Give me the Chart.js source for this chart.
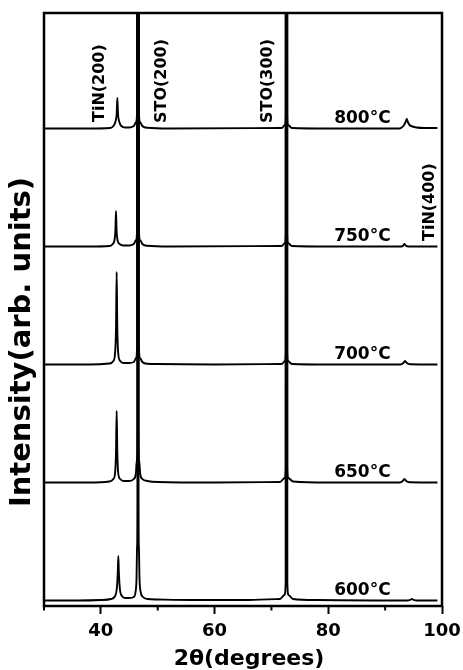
<!DOCTYPE html>
<html lang="en">
<head>
    <meta charset="UTF-8">
    <title>XRD patterns of TiN on STO</title>
    <style>
        html, body { margin: 0; padding: 0; background: #fff; }
        #wrap { width: 463px; height: 670px; position: relative; }
    </style>
</head>
<body>
    <div id="wrap"><canvas id="xrd"></canvas></div>

    <script src="https://cdn.jsdelivr.net/npm/chart.js"></script>
    <script>
        // 2-theta range and x-axis ticks
        const thetaMin = 30;
        const thetaMax = 100;
        const majorTicks = [40, 60, 80, 100];
        const minorTicks = [30, 50, 70, 90];

        // anneal temperatures and the vertical offset of each pattern (arb. units)
        const temps = ['600°C', '650°C', '700°C', '750°C', '800°C'];
        const offsets = [0, 118, 236, 354, 472];

        // measured patterns, [2theta, intensity] (STO peaks run off scale)
        const xrd600 = [[30,0.5],[36,0.5],[40,1],[41.8,2],[42.5,5],[42.8,12],[42.97,28],[43.07,45],[43.17,28],[43.35,12],[43.7,5],[44.3,3],[45.0,3],[45.8,4],[46.1,9],[46.27,22],[46.38,55],[46.43,100],[46.46,3000],[46.6,3000],[46.63,100],[46.68,55],[46.8,22],[47.0,9],[47.4,4],[48.2,2],[50,1.5],[56,1],[66,1],[71.5,2],[72.3,6],[72.5,18],[72.6,3000],[72.7,3000],[72.8,18],[73.0,6],[73.8,2],[78,1],[88,0.5],[93.9,0.5],[94.4,1.2],[94.7,2],[95.0,1.2],[95.6,0.5],[99.2,0.5]];
        const xrd650 = [[30,0.5],[38,0.5],[41.5,1.5],[42.2,4],[42.5,10],[42.66,30],[42.78,72],[42.9,30],[43.05,10],[43.4,4],[44.0,2],[45.0,2],[45.8,4],[46.15,9],[46.32,22],[46.42,50],[46.46,3000],[46.6,3000],[46.64,50],[46.74,22],[46.92,9],[47.3,4],[48.2,2],[50,1],[60,0.5],[71.5,1],[72.35,5],[72.52,16],[72.6,3000],[72.7,3000],[72.78,16],[72.95,5],[73.8,1.5],[80,0.5],[92.6,0.5],[93.1,2],[93.4,4],[93.7,2],[94.3,0.8],[99.2,0.5]];
        const xrd700 = [[30,0.5],[38,0.5],[41.5,1.5],[42.2,4],[42.5,12],[42.67,38],[42.78,93],[42.89,38],[43.05,12],[43.4,4],[44.0,2],[45.0,2],[45.8,3],[46.2,7],[46.38,20],[46.46,3000],[46.6,3000],[46.68,20],[46.88,7],[47.3,3],[48.2,1.2],[50,1],[60,0.5],[71.8,1],[72.4,4],[72.54,14],[72.6,3000],[72.7,3000],[72.76,14],[72.9,4],[73.6,1],[80,0.5],[92.7,0.5],[93.2,2],[93.5,4],[93.8,2],[94.4,0.8],[99.2,0.5]];
        const xrd750 = [[30,0.5],[38,0.5],[41.5,1],[42.1,3],[42.4,7],[42.56,17],[42.66,36],[42.76,17],[42.92,7],[43.3,3],[44.0,1.5],[45.0,1.5],[45.8,3],[46.2,7],[46.38,20],[46.46,3000],[46.6,3000],[46.68,20],[46.88,7],[47.3,3],[48.2,1.2],[52,0.5],[71.8,1],[72.4,4],[72.54,14],[72.6,3000],[72.7,3000],[72.76,14],[72.9,4],[73.6,1],[80,0.5],[92.8,0.5],[93.2,1.5],[93.4,3],[93.6,1.5],[94.2,0.5],[99.2,0.5]];
        const xrd800 = [[30,0.5],[38,0.5],[41.6,1],[42.2,3],[42.55,7],[42.78,15],[42.9,31],[43.02,15],[43.25,7],[43.6,3],[44.3,1.5],[45.0,1.5],[45.8,3],[46.2,7],[46.38,20],[46.46,3000],[46.6,3000],[46.68,20],[46.88,7],[47.3,3],[48.2,1.2],[52,0.5],[71.8,1],[72.4,4],[72.54,14],[72.6,3000],[72.7,3000],[72.76,14],[72.9,4],[73.6,1],[80,0.5],[92.5,0.5],[93.2,3],[93.6,7],[93.8,10],[94.0,7],[94.3,4],[94.8,2.5],[95.5,1.5],[97,1],[99.2,1]];
        const patterns = [xrd600, xrd650, xrd700, xrd750, xrd800];

        // reflection labels and where they sit (2theta, intensity of text base)
        const peakNames = ['TiN(200)', 'STO(200)', 'STO(300)', 'TiN(400)'];
        const peakNameAt = [[39.85, 479], [50.7, 478], [69.4, 478], [97.8, 360]];
        const tempLabelTheta = 86;

        Chart.defaults.font.family = '"DejaVu Sans", sans-serif';
        Chart.defaults.color = '#000';

        const datasets = patterns.map((pts, i) => ({
            label: temps[i],
            data: pts.map(p => ({ x: p[0], y: p[1] + offsets[i] })),
            borderColor: '#000',
            borderWidth: 1.9,
            pointRadius: 0,
            cubicInterpolationMode: 'monotone',
            fill: false
        }));

        // frame, minor ticks and all the annotation text
        const decorations = {
            id: 'decorations',
            afterDraw(chart) {
                const ctx = chart.ctx;
                const area = chart.chartArea;
                const xs = chart.scales.x;
                const ys = chart.scales.y;
                ctx.save();
                ctx.strokeStyle = '#000';
                ctx.lineWidth = 2.5;
                ctx.strokeRect(area.left, area.top, area.right - area.left, area.bottom - area.top);

                ctx.lineWidth = 2;
                minorTicks.forEach(v => {
                    const px = xs.getPixelForValue(v);
                    ctx.beginPath();
                    ctx.moveTo(px, area.bottom);
                    ctx.lineTo(px, area.bottom + 4.5);
                    ctx.stroke();
                });

                ctx.fillStyle = '#000';
                ctx.font = 'bold 16px "DejaVu Sans"';
                ctx.textAlign = 'left';
                ctx.textBaseline = 'middle';
                peakNames.forEach((name, i) => {
                    ctx.save();
                    ctx.translate(xs.getPixelForValue(peakNameAt[i][0]), ys.getPixelForValue(peakNameAt[i][1]));
                    ctx.rotate(-Math.PI / 2);
                    ctx.fillText(name, 0, 0);
                    ctx.restore();
                });

                ctx.font = 'bold 17px "DejaVu Sans"';
                ctx.textAlign = 'center';
                ctx.textBaseline = 'alphabetic';
                temps.forEach((t, i) => {
                    ctx.fillText(t, xs.getPixelForValue(tempLabelTheta), ys.getPixelForValue(offsets[i] + 6));
                });

                // axis titles
                ctx.font = 'bold 22px "DejaVu Sans"';
                ctx.fillText('2θ(degrees)', 249, 665);

                ctx.save();
                ctx.translate(22, 342);
                ctx.rotate(-Math.PI / 2);
                ctx.textBaseline = 'middle';
                ctx.font = 'bold 29px "DejaVu Sans"';
                ctx.fillText('Intensity(arb. units)', 0, 0);
                ctx.restore();

                ctx.restore();
            }
        };

        new Chart(document.getElementById('xrd'), {
            type: 'line',
            data: { datasets: datasets },
            options: {
                responsive: true,
                maintainAspectRatio: false,
                animation: false,
                devicePixelRatio: 1,
                layout: { padding: { left: 44, right: 21, top: 13, bottom: 0 } },
                plugins: {
                    legend: { display: false },
                    tooltip: { enabled: false }
                },
                scales: {
                    x: {
                        type: 'linear',
                        min: thetaMin,
                        max: thetaMax,
                        // fixed axis height; the "100" label may hang into the right margin
                        afterFit: s => { s.height = 64; s.paddingLeft = 0; s.paddingRight = 0; },
                        border: { display: false },
                        grid: {
                            display: true,
                            drawOnChartArea: false,
                            drawTicks: true,
                            tickLength: 8,
                            tickWidth: 2,
                            tickColor: c => (c.tick && majorTicks.includes(c.tick.value)) ? '#000' : 'rgba(0,0,0,0)'
                        },
                        ticks: {
                            stepSize: 10,
                            padding: 7,
                            autoSkip: false,
                            maxRotation: 0,
                            color: '#000',
                            font: { size: 18, weight: 'bold' },
                            callback: v => majorTicks.includes(v) ? String(v) : ''
                        }
                    },
                    y: {
                        display: false,
                        min: -5,
                        max: 588
                    }
                }
            },
            plugins: [decorations]
        });
    </script>
</body>
</html>
